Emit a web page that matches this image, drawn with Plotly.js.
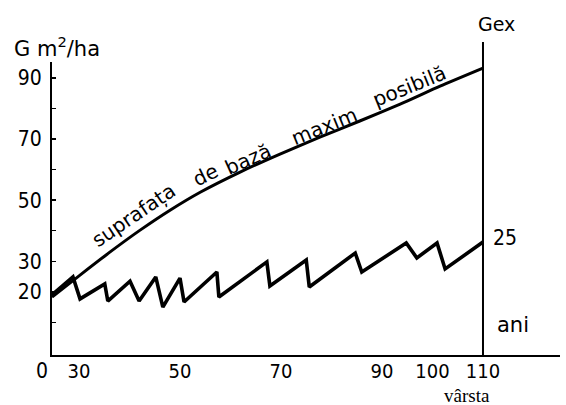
<!DOCTYPE html>
<html>
<head>
<meta charset="utf-8">
<script src="https://cdn.plot.ly/plotly-3.0.1.min.js"></script>
<style>
  html, body { margin: 0; padding: 0; background: #ffffff; }
  #chart { width: 566px; height: 405px; }
</style>
</head>
<body>
<div id="chart"></div>
<script>
// ---- data ----
// age axis is drawn broken: its origin sits at about 24.65 years and is labelled "0"
const axisOriginAge = 24.65;

// upper curve: maximum possible basal area (G, m2/ha) by age
const ageMax = [24.65, 30.2, 36.1, 42.1, 48.1, 54.0, 61.9, 69.8, 77.7, 85.6, 93.6, 101.5, 110];
const gMax   = [18.3, 25.5, 33.0, 40.2, 46.8, 52.6, 59.2, 65.1, 70.6, 75.9, 81.4, 87.3, 93.2];

// sawtooth: basal area under repeated thinnings
const ageSaw = [24.65, 28.8, 30.2, 35.1, 35.7, 40.1, 41.9, 45.2, 46.6, 50.0, 50.8, 57.3, 57.7,
                67.2, 67.8, 75.0, 75.6, 84.7, 86.0, 94.8, 96.9, 100.9, 102.5, 110];
const gSaw   = [19.0, 24.9, 17.7, 22.6, 17.0, 23.5, 17.0, 24.9, 15.0, 24.5, 16.7, 26.5, 18.3,
                29.8, 21.9, 30.4, 21.6, 32.7, 26.5, 36.0, 31.1, 36.0, 27.5, 36.3];

const xTickVals = [30, 50, 70, 90, 100, 110];
const xTickText = ['30', '50', '70', '90', '100', '110'];
const yTickVals = [20, 30, 50, 70, 90];
const yTickText = ['20', '30', '50', '70', '90'];
const yMinorVals = [10, 40, 60, 80];

const curveWords = ['supra\u0066a\u021ba', 'de', 'baz\u0103', 'maxim', 'posibil\u0103'];
const exploitAge = 110;

// ---- drawing ----
const condensed = 'DejaVu Sans Condensed, Liberation Sans Narrow, DejaVu Sans, sans-serif';
const ink = '#000000';

const traces = [
  {
    x: ageMax, y: gMax, type: 'scatter', mode: 'lines',
    line: { color: ink, width: 3, shape: 'spline', smoothing: 0.6 },
    hoverinfo: 'skip', showlegend: false
  },
  {
    x: ageSaw, y: gSaw, type: 'scatter', mode: 'lines',
    line: { color: ink, width: 3.6, shape: 'linear' },
    hoverinfo: 'skip', showlegend: false
  }
];

// word positions along the curve (data coords) and their slopes
const wordPos = [
  { x: 40.9, y: 45.0, a: -34 },
  { x: 55.0, y: 58.2, a: -26 },
  { x: 63.5, y: 63.6, a: -24 },
  { x: 78.7, y: 74.2, a: -22 },
  { x: 95.5, y: 87.2, a: -22 }
];

const annotations = curveWords.map((w, i) => ({
  x: wordPos[i].x, y: wordPos[i].y, xref: 'x', yref: 'y',
  text: w, showarrow: false, textangle: wordPos[i].a,
  font: { family: 'DejaVu Sans, sans-serif', size: 20, color: ink },
  xanchor: 'center', yanchor: 'middle'
}));

annotations.push(
  { x: axisOriginAge, y: 0, xref: 'x', yref: 'paper', text: '0', showarrow: false,
    xanchor: 'center', yanchor: 'top', xshift: -10, yshift: -2,
    font: { family: condensed, size: 21, color: ink } },
  { x: 0.01, y: 1.05, xref: 'paper', yref: 'paper', text: 'G m<sup>2</sup>/ha', showarrow: false,
    xanchor: 'center', yanchor: 'middle',
    font: { family: 'DejaVu Sans, sans-serif', size: 21, color: ink } },
  { x: exploitAge, y: 1.128, xref: 'x', yref: 'paper', text: 'Gex', showarrow: false,
    xanchor: 'center', yanchor: 'middle', xshift: 14,
    font: { family: 'DejaVu Sans, sans-serif', size: 19, color: ink } },
  { x: exploitAge, y: gSaw[gSaw.length - 1], xref: 'x', yref: 'y', text: '25', showarrow: false,
    xanchor: 'left', yanchor: 'middle', xshift: 8, yshift: 4,
    font: { family: condensed, size: 21, color: ink } },
  { x: exploitAge, y: 0, xref: 'x', yref: 'paper', text: 'ani', showarrow: false,
    xanchor: 'left', yanchor: 'bottom', xshift: 12, yshift: 16,
    font: { family: 'DejaVu Sans, sans-serif', size: 21, color: ink } },
  { x: exploitAge, y: 0, xref: 'x', yref: 'paper', text: 'v\u00e2rsta', showarrow: false,
    xanchor: 'center', yanchor: 'middle', xshift: -16, yshift: -40,
    font: { family: 'Liberation Serif, DejaVu Serif, serif', size: 19, color: ink } }
);

const layout = {
  width: 566, height: 405,
  margin: { l: 52, r: 6, t: 62, b: 50, pad: 0 },
  paper_bgcolor: '#ffffff', plot_bgcolor: '#ffffff',
  showlegend: false,
  xaxis: {
    range: [axisOriginAge, 125.25],
    showgrid: false, zeroline: false,
    showline: true, linecolor: ink, linewidth: 2,
    tickmode: 'array', tickvals: xTickVals, ticktext: xTickText,
    ticks: '', ticklabelstandoff: -3,
    tickfont: { family: condensed, size: 20, color: ink }
  },
  yaxis: {
    range: [-0.65, 95.2],
    showgrid: false, zeroline: false,
    showline: true, linecolor: ink, linewidth: 2,
    tickmode: 'array', tickvals: yTickVals, ticktext: yTickText,
    ticks: 'inside', ticklen: 4, tickwidth: 1.5, tickcolor: ink,
    minor: { tickmode: 'array', tickvals: yMinorVals, ticks: 'inside', ticklen: 4, tickwidth: 1.5, tickcolor: ink, showgrid: false },
    ticklabelstandoff: 4,
    tickfont: { family: condensed, size: 21, color: ink }
  },
  shapes: [
    { type: 'line', xref: 'x', yref: 'paper', x0: exploitAge, x1: exploitAge, y0: 0, y1: 1.068,
      line: { color: ink, width: 2 } }
  ],
  annotations: annotations
};

Plotly.newPlot('chart', traces, layout, { displayModeBar: false, staticPlot: true });
</script>
</body>
</html>
